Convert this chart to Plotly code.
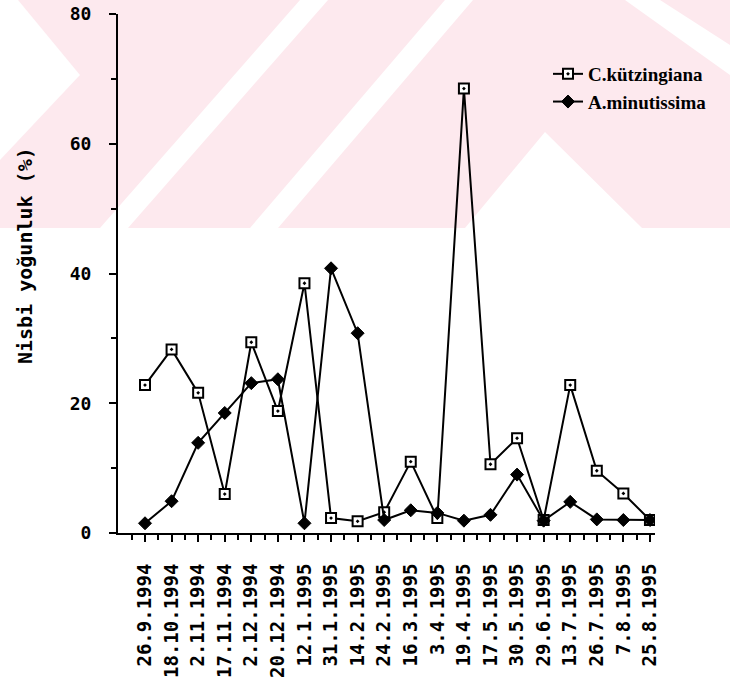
import plotly.graph_objects as go

# ---- data ----
dates = ["26.9.1994", "18.10.1994", "2.11.1994", "17.11.1994", "2.12.1994",
         "20.12.1994", "12.1.1995", "31.1.1995", "14.2.1995", "24.2.1995",
         "16.3.1995", "3.4.1995", "19.4.1995", "17.5.1995", "30.5.1995",
         "29.6.1995", "13.7.1995", "26.7.1995", "7.8.1995", "25.8.1995"]
c_kutzingiana = [22.8, 28.3, 21.6, 6.0, 29.4, 18.8, 38.5, 2.3, 1.8, 3.2,
                 11.0, 2.3, 68.5, 10.6, 14.6, 2.0, 22.8, 9.6, 6.1, 2.0]
a_minutissima = [1.5, 4.9, 13.9, 18.5, 23.1, 23.7, 1.5, 40.8, 30.8, 2.0,
                 3.5, 3.1, 1.9, 2.8, 9.0, 1.9, 4.8, 2.1, 2.0, 2.0]
y_tick_vals = [0, 20, 40, 60, 80]
series_names = ["C.kützingiana", "A.minutissima"]
y_title = "Nisbi yoğunluk (%)"

W, H = 730, 679
ML, MR, MT, MB = 118, 75, 14, 146
PW, PH = W - ML - MR, H - MT - MB


def px(x):
    return (x - ML) / PW


def py(y):
    return (H - MB - y) / PH


idx = list(range(len(dates)))

fig = go.Figure()
fig.add_trace(go.Scatter(
    x=idx, y=c_kutzingiana, name=series_names[0], mode="lines+markers",
    line=dict(color="black", width=2),
    marker=dict(symbol="square-dot", size=10, color="white",
                line=dict(color="black", width=2)),
))
fig.add_trace(go.Scatter(
    x=idx, y=a_minutissima, name=series_names[1], mode="lines+markers",
    line=dict(color="black", width=2),
    marker=dict(symbol="diamond", size=10, color="black",
                line=dict(color="black", width=1)),
))

# ---- faint background watermark (pink band with white stripes) ----
pink = "#fde9ee"
shapes = [dict(type="rect", xref="paper", yref="paper", layer="below",
               x0=px(0), x1=px(W), y0=py(228), y1=py(0),
               fillcolor=pink, line=dict(width=0))]


def poly(points):
    path = "M " + " L ".join(f"{px(a):.4f},{py(b):.4f}" for a, b in points) + " Z"
    return dict(type="path", xref="paper", yref="paper", layer="below",
                path=path, fillcolor="white", line=dict(width=0))


shapes += [
    poly([(0, 0), (18, 0), (80, 75), (0, 160)]),
    poly([(100, 228), (128, 228), (328, 0), (300, 0)]),
    poly([(250, 228), (278, 228), (473, 0), (445, 0)]),
    poly([(465, 228), (545, 132), (642, 228)]),
    poly([(625, 0), (660, 0), (730, 45), (730, 75)]),
]

fig.update_layout(
    width=W, height=H,
    margin=dict(l=ML, r=MR, t=MT, b=MB, pad=0, autoexpand=False),
    paper_bgcolor="white", plot_bgcolor="rgba(0,0,0,0)",
    shapes=shapes,
    showlegend=True,
    legend=dict(x=px(548), y=py(55), xanchor="left", yanchor="top",
                bgcolor="rgba(0,0,0,0)", borderwidth=0,
                font=dict(family="Liberation Serif", size=19, color="black",
                          weight="bold"),
                itemwidth=30, tracegroupgap=0),
    annotations=[dict(text=y_title, xref="paper", yref="paper",
                      x=px(25), y=py(256), textangle=-90, showarrow=False,
                      xanchor="center", yanchor="middle",
                      font=dict(family="DejaVu Sans Mono", size=20,
                                color="black", weight="bold"))],
)

fig.update_xaxes(
    range=[-1.016, 19.19], tickmode="array", tickvals=idx, ticktext=dates,
    tickangle=-90, showgrid=False, zeroline=False, automargin=False,
    showline=True, linecolor="black", linewidth=2,
    ticks="outside", ticklen=7, tickwidth=2, tickcolor="black",
    minor=dict(tickmode="linear", tick0=-0.5, dtick=1, ticks="outside",
               ticklen=5, tickwidth=2, tickcolor="black", showgrid=False),
    ticklabelstandoff=14,
    tickfont=dict(family="DejaVu Sans Mono", size=19, color="black",
                  weight="bold"),
)
fig.update_yaxes(
    range=[0, 80], tickmode="array", tickvals=y_tick_vals,
    showgrid=False, zeroline=False, automargin=False,
    showline=True, linecolor="black", linewidth=2,
    ticks="outside", ticklen=7, tickwidth=2, tickcolor="black",
    minor=dict(tickmode="linear", tick0=0, dtick=10, ticks="outside",
               ticklen=5, tickwidth=2, tickcolor="black", showgrid=False),
    ticklabelstandoff=14,
    tickfont=dict(family="DejaVu Sans Mono", size=18, color="black",
                  weight="bold"),
)

fig.write_html("out.html")
